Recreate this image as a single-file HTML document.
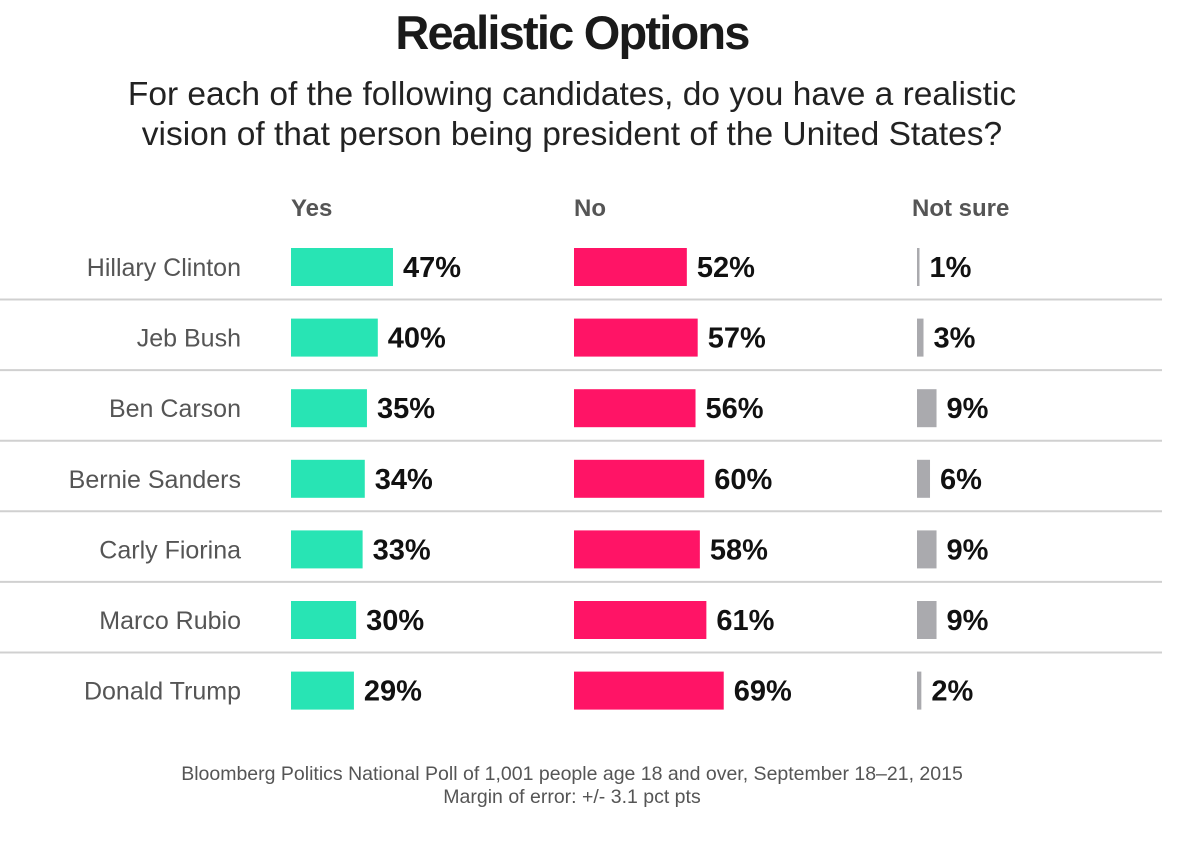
<!DOCTYPE html>
<html><head><meta charset="utf-8"><style>
body{margin:0;background:#fff;width:1200px;height:836px;overflow:hidden;font-family:"Liberation Sans",sans-serif;}
</style></head><body>
<svg id="chart" width="1200" height="836" xmlns="http://www.w3.org/2000/svg">
<text x="572" y="49" text-anchor="middle" font-size="47" font-weight="bold" fill="#1a1a1a" letter-spacing="-1.8">Realistic Options</text>
<text x="572" y="105" text-anchor="middle" font-size="33.5" fill="#222">For each of the following candidates, do you have a realistic</text>
<text x="572" y="145" text-anchor="middle" font-size="33.5" fill="#222">vision of that person being president of the United States?</text>
<text x="291" y="216" font-size="24" font-weight="bold" fill="#555">Yes</text>
<text x="574" y="216" font-size="24" font-weight="bold" fill="#555">No</text>
<text x="912" y="216" font-size="24" font-weight="bold" fill="#555">Not sure</text>
<g id="rows"></g>
<text x="572" y="780" text-anchor="middle" font-size="19.5" fill="#555">Bloomberg Politics National Poll of 1,001 people age 18 and over, September 18–21, 2015</text>
<text x="572" y="803" text-anchor="middle" font-size="19.5" fill="#555">Margin of error: +/- 3.1 pct pts</text>
</svg>
<script>
const candidates=["Hillary Clinton","Jeb Bush","Ben Carson","Bernie Sanders","Carly Fiorina","Marco Rubio","Donald Trump"];
const yesVals=[47,40,35,34,33,30,29];
const noVals=[52,57,56,60,58,61,69];
const notSureVals=[1,3,9,6,9,9,2];
const NS="http://www.w3.org/2000/svg";
const g=document.getElementById('rows');
const scale=v=>v*2.17;
const rowY=i=>267+i*70.6;
function mk(tag,attrs){const e=document.createElementNS(NS,tag);for(const k in attrs)e.setAttribute(k,attrs[k]);g.appendChild(e);return e;}
candidates.forEach((c,i)=>{
  const cy=rowY(i);
  const t=mk('text',{x:241,y:cy+9,'text-anchor':'end','font-size':25,fill:'#555'});t.textContent=c;
  
  
  const cols=[[291,yesVals[i],'#28e4b4','yes'],[574,noVals[i],'#ff1466','no'],[917,notSureVals[i],'#aaaaae','not-sure']];
  cols.forEach(([x0,v,col,nm])=>{
    const w=Math.max(scale(v),2.5);
    const r=mk('rect',{x:x0,y:cy-19,width:w,height:38,fill:col});
    
    
    const l=mk('text',{x:x0+w+10,y:cy+10,'font-size':29,'font-weight':'bold',fill:'#111'});l.textContent=v+'%';
    
    
  });
  if(i<candidates.length-1){
    const ln=mk('line',{x1:0,x2:1162,y1:cy+32.5,y2:cy+32.5,stroke:'#d0d0d0','stroke-width':2});
    
    
  }
});
</script>
</body></html>
